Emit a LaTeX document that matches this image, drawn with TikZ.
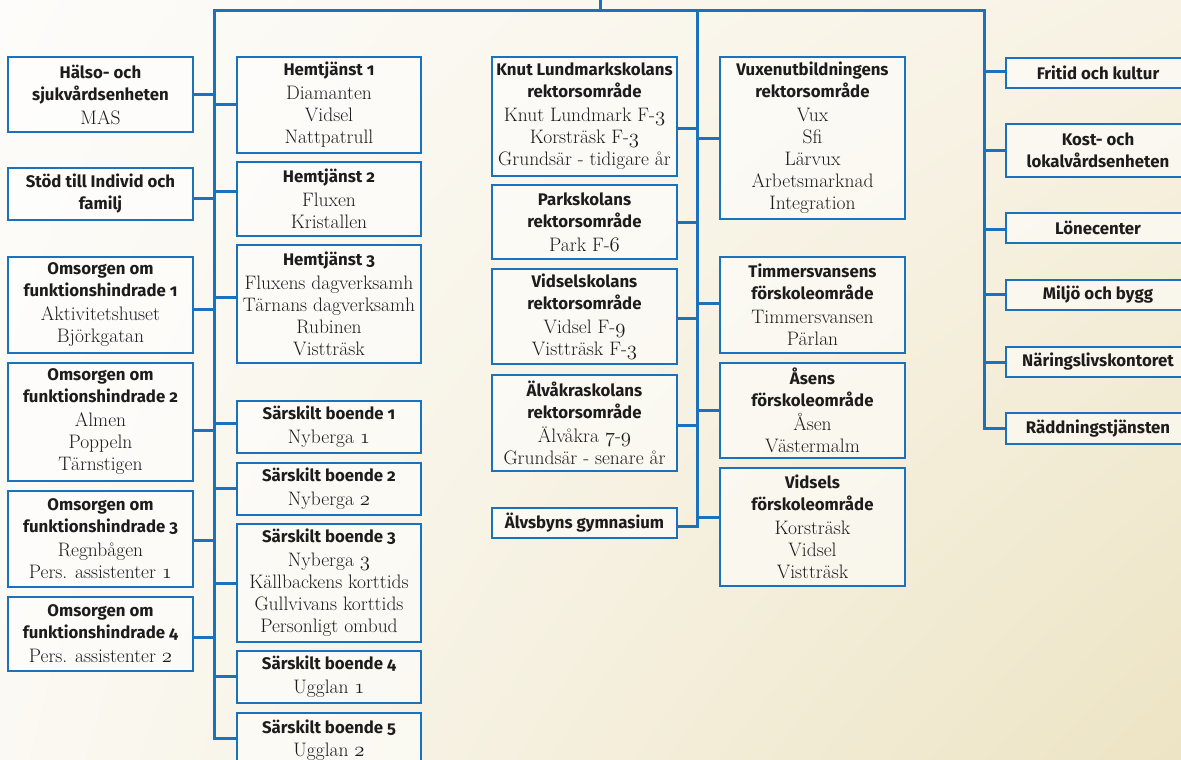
\documentclass[tikz,border=0pt]{standalone}
\usepackage{fontspec}
\usetikzlibrary{shadings}
\newfontfamily\tsffam{Fira Sans}[Numbers=OldStyle]
\newcommand\osn[1]{{\usefont{OML}{lmm}{m}{it}#1}}
\newcommand\tl[1]{{\tsffam\bfseries\fontsize{16.8}{22}\selectfont #1}}
\definecolor{bl}{HTML}{1A72BF}
\definecolor{txt}{HTML}{1E1B1C}
\definecolor{bgUL}{RGB}{253,252,250}
\definecolor{bgUR}{RGB}{247,242,227}
\definecolor{bgLL}{RGB}{251,249,243}
\definecolor{bgLR}{RGB}{237,228,196}
\begin{document}
\begin{tikzpicture}[x=1pt,y=-1pt,
  box/.style={draw=bl, line width=2pt, fill=white, fill opacity=0.55, text opacity=1,
    text=txt, align=center, inner sep=0pt, minimum width=185pt,
    font=\fontsize{19.5}{22}\selectfont},
  conn/.style={draw=bl, line width=3pt, line join=miter}]
\useasboundingbox (0,0) rectangle (1181,760);
\clip (0,0) rectangle (1181,760);
\shade[upper left=bgUL, upper right=bgUR, lower left=bgLL, lower right=bgLR]
  (0,0) rectangle (1181,760);

% trunk coordinates
\coordinate (top) at (600,0);
\coordinate (topj) at (600,11);
\coordinate (tL) at (214,11);
\coordinate (tM) at (697,11);
\coordinate (tR) at (984,11);

% column A
\node[box, minimum height=75pt] (hso) at (100.5,94.5) {\tl{Hälso- och}\\\tl{sjukvårdsenheten}\\[2pt]MAS};
\node[box, minimum height=52pt] (sif) at (100.5,194) {\tl{Stöd till Individ och}\\\tl{familj}};
\node[box, minimum height=96pt] (om1) at (100.5,305) {\tl{Omsorgen om}\\\tl{funktionshindrade 1}\\[2pt]Aktivitetshuset\\Björkgatan};
\node[box, minimum height=118pt] (om2) at (100.5,422) {\tl{Omsorgen om}\\\tl{funktionshindrade 2}\\[2pt]Almen\\Poppeln\\Tärnstigen};
\node[box, minimum height=96pt] (om3) at (100.5,539) {\tl{Omsorgen om}\\\tl{funktionshindrade 3}\\[2pt]Regnbågen\\Pers. assistenter \osn{1}};
\node[box, minimum height=74pt] (om4) at (100.5,634) {\tl{Omsorgen om}\\\tl{funktionshindrade 4}\\[2pt]Pers. assistenter \osn{2}};

% column B
\node[box, minimum width=184pt, minimum height=96pt] (h1) at (329,105) {\tl{Hemtjänst 1}\\[2pt]Diamanten\\Vidsel\\Nattpatrull};
\node[box, minimum width=184pt, minimum height=74pt] (h2) at (329,199) {\tl{Hemtjänst 2}\\[2pt]Fluxen\\Kristallen};
\node[box, minimum width=184pt, minimum height=118pt] (h3) at (329,304) {\tl{Hemtjänst 3}\\[2pt]Fluxens dagverksamh\\Tärnans dagverksamh\\Rubinen\\Vistträsk};
\node[box, minimum width=184pt, minimum height=52pt] (sb1) at (329,427) {\tl{Särskilt boende 1}\\[2pt]Nyberga \osn{1}};
\node[box, minimum width=184pt, minimum height=52pt] (sb2) at (329,489) {\tl{Särskilt boende 2}\\[2pt]Nyberga \osn{2}};
\node[box, minimum width=184pt, minimum height=118pt] (sb3) at (329,583) {\tl{Särskilt boende 3}\\[2pt]Nyberga \osn{3}\\Källbackens korttids\\Gullvivans korttids\\Personligt ombud};
\node[box, minimum width=184pt, minimum height=52pt] (sb4) at (329,677) {\tl{Särskilt boende 4}\\[2pt]Ugglan \osn{1}};
\node[box, minimum width=184pt, minimum height=54pt] (sb5) at (329,740) {\tl{Särskilt boende 5}\\[1pt]Ugglan \osn{2}};

% column C
\node[box, minimum height=119pt] (knut) at (584.5,116.5) {\tl{Knut Lundmarkskolans}\\\tl{rektorsområde}\\[2pt]Knut Lundmark F-\osn{3}\\Korsträsk F-\osn{3}\\Grundsär - tidigare år};
\node[box, minimum height=74pt] (park) at (584.5,222) {\tl{Parkskolans}\\\tl{rektorsområde}\\[2pt]Park F-\osn{6}};
\node[box, minimum height=95pt] (vid) at (584.5,316.5) {\tl{Vidselskolans}\\\tl{rektorsområde}\\[2pt]Vidsel F-\osn{9}\\Vistträsk F-\osn{3}};
\node[box, minimum height=96pt] (alv) at (584.5,423) {\tl{Älvåkraskolans}\\\tl{rektorsområde}\\[2pt]Älvåkra \osn{7}-\osn{9}\\Grundsär - senare år};
\node[box, minimum height=30pt] (gym) at (584.5,523) {\tl{Älvsbyns gymnasium}};

% column D
\node[box, minimum height=162pt] (vux) at (812.5,138) {\tl{Vuxenutbildningens}\\\tl{rektorsområde}\\[2pt]Vux\\Sfi\\Lärvux\\Arbetsmarknad\\Integration};
\node[box, minimum height=96pt] (tim) at (812.5,305) {\tl{Timmersvansens}\\\tl{förskoleområde}\\[2pt]Timmersvansen\\Pärlan};
\node[box, minimum height=95pt] (asen) at (812.5,410.5) {\tl{Åsens}\\\tl{förskoleområde}\\[2pt]Åsen\\Västermalm};
\node[box, minimum height=118pt] (vfo) at (812.5,527) {\tl{Vidsels}\\\tl{förskoleområde}\\[2pt]Korsträsk\\Vidsel\\Vistträsk};

% column E
\node[box, minimum width=184pt, minimum height=30pt] (fri) at (1098,73) {\tl{Fritid och kultur}};
\node[box, minimum width=184pt, minimum height=53pt] (kost) at (1098,150.5) {\tl{Kost- och}\\\tl{lokalvårdsenheten}};
\node[box, minimum width=184pt, minimum height=30pt] (lon) at (1098,228) {\tl{Lönecenter}};
\node[box, minimum width=184pt, minimum height=30pt] (mil) at (1098,295) {\tl{Miljö och bygg}};
\node[box, minimum width=184pt, minimum height=30pt] (nar) at (1098,362) {\tl{Näringslivskontoret}};
\node[box, minimum width=184pt, minimum height=31pt] (rad) at (1098,428.5) {\tl{Räddningstjänsten}};

% trunks
\draw[conn] (top) -- (topj);
\draw[conn] ([yshift=2pt]sb5.west) -| (tL) -- (tR) |- (rad.west);
\draw[conn] (tM) |- ([yshift=-3pt]gym.east);

% column A connectors (east side to left trunk)
\foreach \n/\s in {hso/0, sif/-4, om1/-4, om2/-8, om3/-1, om4/-3}
  \draw[conn] ([yshift=\s pt]\n.east) -- ([yshift=\s pt]\n.east -| tL);
% column B connectors
\foreach \n/\s in {h1/1, h2/8, h3/7, sb1/4, sb2/1, sb3/0, sb4/1}
  \draw[conn] ([yshift=\s pt]\n.west) -- ([yshift=\s pt]\n.west -| tL);
% column C connectors
\foreach \n/\s in {knut/-11.5, park/0, vid/-1.5, alv/-2}
  \draw[conn] ([yshift=\s pt]\n.east) -- ([yshift=\s pt]\n.east -| tM);
% column D connectors
\foreach \n/\s in {vux/0, tim/2, asen/0, vfo/10}
  \draw[conn] ([yshift=\s pt]\n.west) -- ([yshift=\s pt]\n.west -| tM);
% column E connectors
\foreach \n/\s in {fri/1, kost/0, lon/-1, mil/1, nar/0}
  \draw[conn] ([yshift=\s pt]\n.west) -- ([yshift=\s pt]\n.west -| tR);
\end{tikzpicture}
\end{document}
